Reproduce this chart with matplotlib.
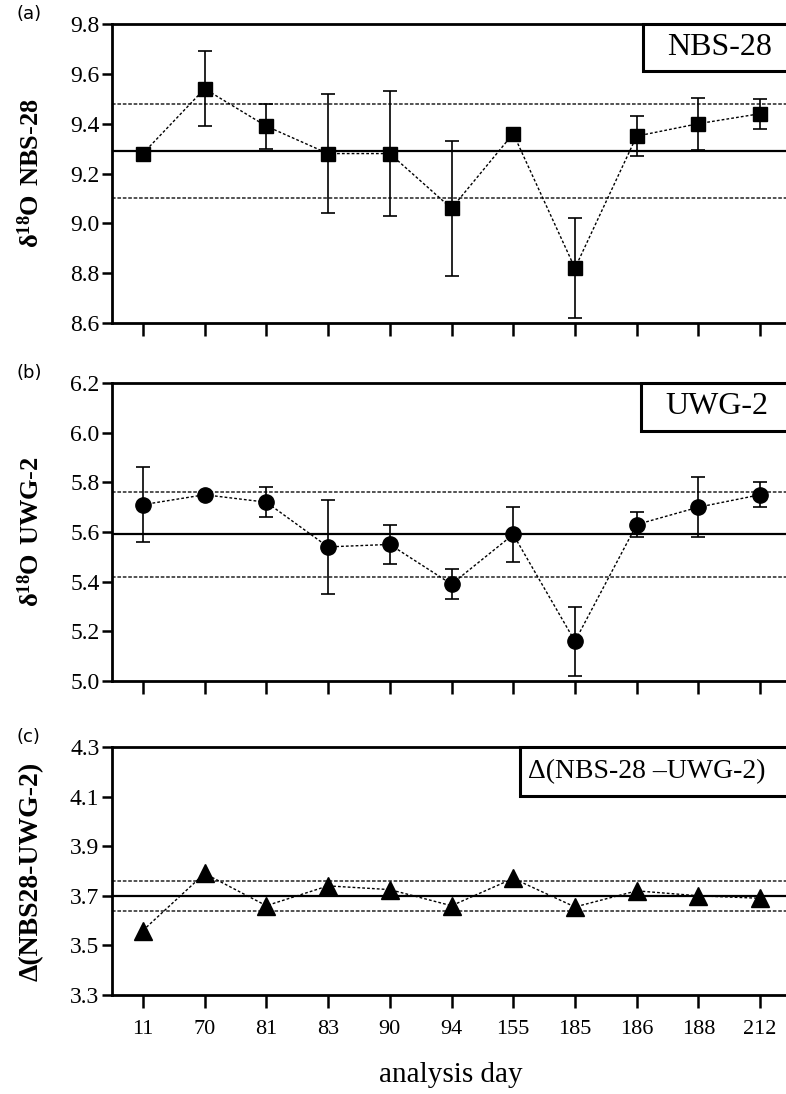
import matplotlib.pyplot as plt
from matplotlib.patches import Rectangle

plt.rcParams['font.family'] = ['Liberation Serif', 'DejaVu Serif']
plt.rcParams['mathtext.fontset'] = 'custom'
plt.rcParams['mathtext.rm'] = 'Liberation Serif'
plt.rcParams['mathtext.bf'] = 'Liberation Serif:bold'

days = ['11', '70', '81', '83', '90', '94', '155', '185', '186', '188', '212']

nbs28 = [9.28, 9.54, 9.39, 9.28, 9.28, 9.06, 9.36, 8.82, 9.35, 9.40, 9.44]
nbs28_err = [0.0, 0.15, 0.09, 0.24, 0.25, 0.27, 0.0, 0.20, 0.08, 0.105, 0.06]
nbs28_lines = [9.29, 9.48, 9.10]   # mean, +1sd, -1sd

uwg2 = [5.71, 5.75, 5.72, 5.54, 5.55, 5.39, 5.59, 5.16, 5.63, 5.70, 5.75]
uwg2_err = [0.15, 0.0, 0.06, 0.19, 0.08, 0.06, 0.11, 0.14, 0.05, 0.12, 0.05]
uwg2_lines = [5.59, 5.76, 5.42]

delta = [3.56, 3.79, 3.66, 3.74, 3.725, 3.66, 3.77, 3.655, 3.72, 3.70, 3.69]
delta_lines = [3.70, 3.76, 3.64]

W, H = 786, 1094
fig = plt.figure(figsize=(W / 100, H / 100), dpi=100)


def make_axes(top_px, bottom_px):
    left_px, right_px = 112, 791
    return fig.add_axes([left_px / W, 1 - bottom_px / H,
                         (right_px - left_px) / W, (bottom_px - top_px) / H])


ax_a = make_axes(24, 323)
ax_b = make_axes(383, 681)
ax_c = make_axes(747, 995)

x = list(range(len(days)))

panels = [
    (ax_a, nbs28, nbs28_err, nbs28_lines, 's', 10, (8.6, 9.8), [8.6, 8.8, 9.0, 9.2, 9.4, 9.6, 9.8],
     r'$\mathbf{\delta^{18}O\ NBS\text{-}28}$', 'NBS-28', (0.782, 0.843), 0.036, 23, '(a)'),
    (ax_b, uwg2, uwg2_err, uwg2_lines, 'o', 11, (5.0, 6.2), [5.0, 5.2, 5.4, 5.6, 5.8, 6.0, 6.2],
     r'$\mathbf{\delta^{18}O\ UWG\text{-}2}$', 'UWG-2', (0.779, 0.839), 0.036, 23, '(b)'),
    (ax_c, delta, None, delta_lines, '^', 13, (3.3, 4.3), [3.3, 3.5, 3.7, 3.9, 4.1, 4.3],
     'Δ(NBS28-UWG-2)', 'Δ(NBS-28 –UWG-2)', (0.601, 0.802), 0.012, 20, '(c)'),
]

for ax, y, yerr, lines, mk, ms, ylim, yticks, ylabel, boxtxt, boxpos, txt_off, box_fs, tag in panels:
    mean, hi, lo = lines
    ax.axhline(mean, color='black', lw=1.6, zorder=1)
    ax.axhline(hi, color='#444444', lw=1.3, ls=(0, (2, 1)), zorder=1)
    ax.axhline(lo, color='#444444', lw=1.3, ls=(0, (2, 1)), zorder=1)

    ax.plot(x, y, color='black', lw=1.0, ls=(0, (2, 1.5)), zorder=2)
    if yerr is not None:
        ax.errorbar(x, y, yerr=yerr, fmt='none', ecolor='black', elinewidth=1.2,
                    capsize=5, capthick=1.2, zorder=3)
    ax.plot(x, y, ls='none', marker=mk, ms=ms, color='black', zorder=4)

    ax.set_xlim(-0.5, len(days) - 0.5)
    ax.set_ylim(*ylim)
    ax.set_yticks(yticks)
    ax.set_yticklabels([f'{v:.1f}' for v in yticks], fontsize=17)
    ax.set_xticks(x)
    if ax is ax_c:
        ax.set_xticklabels(days, fontsize=16)
    else:
        ax.set_xticklabels([])
    ax.tick_params(axis='y', direction='out', length=7, width=1.8, pad=2)
    ax.tick_params(axis='x', direction='out', length=9, width=1.8, pad=9)

    for side in ['left', 'bottom', 'top', 'right']:
        ax.spines[side].set_linewidth(2.0)

    if ax is ax_c:
        ax.set_ylabel(ylabel, fontsize=20, fontweight='bold')
    else:
        ax.set_ylabel(ylabel, fontsize=19)
    ax.yaxis.set_label_coords(-0.1, 0.5)

    bx, by = boxpos
    ax.add_patch(Rectangle((bx, by), 0.4, 1 - by, transform=ax.transAxes, facecolor='white',
                           edgecolor='black', lw=2.2, zorder=5, clip_on=False))
    ax.text(bx + txt_off, by + (1 - by) / 2, boxtxt, transform=ax.transAxes,
            fontsize=box_fs, ha='left', va='center', zorder=6)

    ax.text(-0.141, 1 + 10 / ax.bbox.height, tag, transform=ax.transAxes, fontsize=13,
            family=['DejaVu Sans'], ha='left', va='center')

fig.text(451 / W, 1 - 1075 / H, 'analysis day', fontsize=21, ha='center', va='center')

fig.savefig('out.png', dpi=100)
